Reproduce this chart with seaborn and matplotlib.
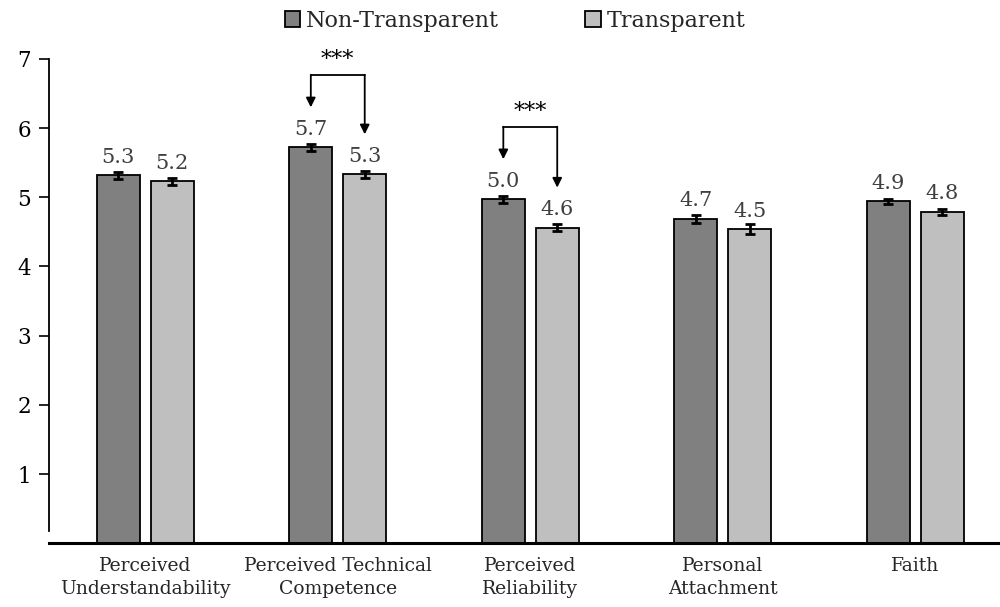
import matplotlib
matplotlib.use("Agg")
import matplotlib.pyplot as plt
import seaborn as sns
import pandas as pd

# Mean ratings per construct (7-point scale) and standard errors
constructs = [
    "Perceived\nUnderstandability",
    "Perceived Technical\nCompetence",
    "Perceived\nReliability",
    "Personal\nAttachment",
    "Faith",
]
conditions = ["Non-Transparent", "Transparent"]
non_transparent = [5.32, 5.72, 4.97, 4.69, 4.94]
transparent = [5.23, 5.33, 4.56, 4.54, 4.79]
non_transparent_se = [0.05, 0.05, 0.05, 0.06, 0.04]
transparent_se = [0.05, 0.05, 0.05, 0.07, 0.04]
y_ticks = [1, 2, 3, 4, 5, 6, 7]
# Constructs with a significant difference between conditions
significant = {"Perceived Technical\nCompetence": "***", "Perceived\nReliability": "***"}

df = pd.DataFrame({
    "construct": constructs * 2,
    "condition": [conditions[0]] * len(constructs) + [conditions[1]] * len(constructs),
    "score": non_transparent + transparent,
})

sns.set_style("white")
plt.rcParams["font.family"] = ["DejaVu Serif"]

fig = plt.figure(figsize=(10, 6.07), dpi=100)
ax = fig.add_axes([0.049, 0.105, 0.951, 0.798])

sns.barplot(
    data=df, x="construct", y="score", hue="condition",
    order=constructs, hue_order=conditions,
    palette=["#808080", "#bfbfbf"],
    width=0.56, gap=0.2, edgecolor="black", linewidth=1.3,
    errorbar=None, ax=ax,
)

# Error bars and value labels on each bar
ses = [non_transparent_se, transparent_se]
vals = [non_transparent, transparent]
bar_containers = list(ax.containers)
bar_x = {}
for k, container in enumerate(bar_containers):
    xs = [p.get_x() + p.get_width() / 2 for p in container.patches]
    bar_x[k] = xs
    ax.errorbar(xs, vals[k], yerr=ses[k], fmt="none", ecolor="black",
                elinewidth=2, capsize=3.5, capthick=2, zorder=5)
    ax.bar_label(container, labels=[f"{v:.1f}" for v in vals[k]],
                 padding=6, color="#404040", fontsize=15)

# Significance brackets with arrows pointing to each bar
for name, stars in significant.items():
    i = constructs.index(name)
    x0, x1 = bar_x[0][i], bar_x[1][i]
    v0, v1 = non_transparent[i], transparent[i]
    top = max(v0, v1) + 1.04
    ax.plot([x0, x1], [top, top], color="black", lw=1.3)
    for x, v in [(x0, v0), (x1, v1)]:
        ax.annotate("", xy=(x, v + 0.58), xytext=(x, top + 0.01),
                    arrowprops=dict(arrowstyle="-|>", color="black", lw=1.3,
                                    mutation_scale=14, shrinkA=0, shrinkB=0))
    ax.text((x0 + x1) / 2, top + 0.06, stars, ha="center", va="bottom",
            fontsize=16, color="black")

ax.set_ylim(0, 7)
ax.set_xlim(-0.5, 4.44)
ax.set_yticks(y_ticks)
ax.set_xlabel("")
ax.set_ylabel("")
ax.tick_params(axis="y", which="both", left=True, length=7, width=1.2,
               pad=6, labelsize=15.5, colors="black")
ax.tick_params(axis="x", length=0, pad=10, labelsize=13.5)
for lab in ax.get_xticklabels():
    lab.set_linespacing(1.35)

for side in ["top", "right"]:
    ax.spines[side].set_visible(False)
ax.spines["left"].set_bounds(0.18, 7)
ax.spines["left"].set_linewidth(1.3)
ax.spines["bottom"].set_linewidth(2.2)
ax.spines["left"].set_color("black")
ax.spines["bottom"].set_color("black")

handles, labels = ax.get_legend_handles_labels()
ax.legend(handles, labels, loc="center", bbox_to_anchor=(0.515, 0.966),
          bbox_transform=fig.transFigure, ncol=2, frameon=False,
          handlelength=0.7, handleheight=0.7, handletextpad=0.25,
          columnspacing=3.9, fontsize=16)

fig.savefig("out.png", dpi=100)
